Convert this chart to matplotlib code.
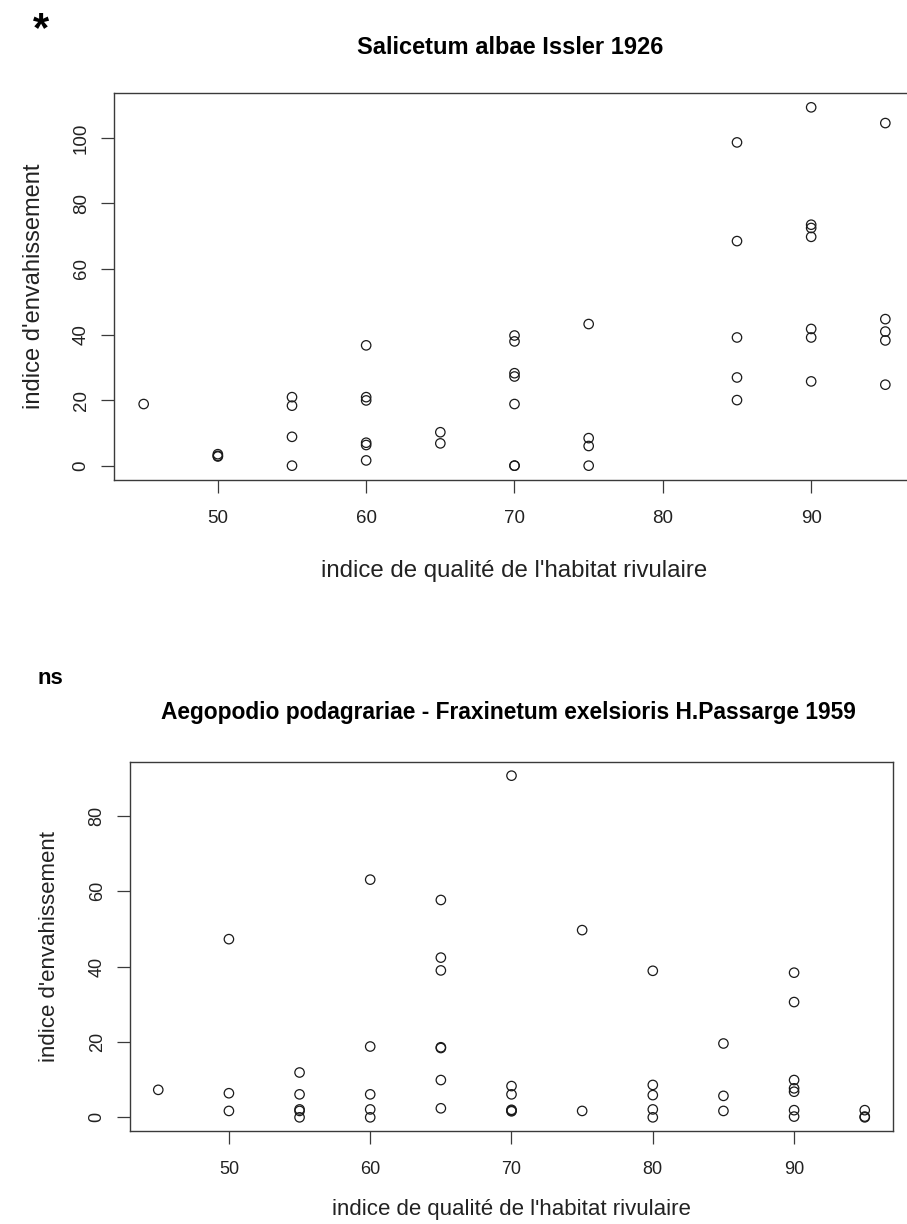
import matplotlib
matplotlib.use("Agg")
import matplotlib.pyplot as plt

plt.rcParams['font.family'] = ['Liberation Sans', 'DejaVu Sans']

# ---- data: top panel (Salicetum albae) ----
top_x = [45,
         50, 50, 50,
         55, 55, 55, 55,
         60, 60, 60, 60, 60, 60,
         65, 65,
         70, 70, 70, 70, 70, 70, 70,
         75, 75, 75, 75,
         85, 85, 85, 85, 85,
         90, 90, 90, 90, 90, 90, 90,
         95, 95, 95, 95, 95]
top_y = [18.8,
         3.5, 3.0, 2.8,
         20.9, 18.3, 8.8, 0.0,
         36.7, 20.9, 19.9, 7.0, 6.3, 1.6,
         10.2, 6.8,
         39.7, 37.9, 28.2, 27.2, 18.8, 0.0, 0.0,
         43.2, 8.4, 6.0, 0.0,
         98.6, 68.5, 39.1, 26.9, 20.0,
         109.3, 73.5, 72.5, 69.8, 41.7, 39.1, 25.7,
         104.5, 44.7, 40.9, 38.2, 24.7]

# ---- data: bottom panel (Aegopodio podagrariae - Fraxinetum) ----
bot_x = [45,
         50, 50, 50,
         55, 55, 55, 55, 55,
         60, 60, 60, 60, 60,
         65, 65, 65, 65, 65, 65, 65,
         70, 70, 70, 70, 70, 70,
         75, 75,
         80, 80, 80, 80, 80,
         85, 85, 85,
         90, 90, 90, 90, 90, 90, 90,
         95, 95, 95]
bot_y = [7.3,
         47.3, 6.4, 1.7,
         11.9, 6.1, 2.1, 1.7, 0.0,
         63.1, 18.8, 6.1, 2.1, 0.0,
         57.7, 42.4, 39.0, 18.6, 18.4, 9.9, 2.4,
         90.7, 8.3, 6.1, 2.0, 1.8, 1.6,
         49.7, 1.7,
         38.9, 8.6, 5.9, 2.1, 0.0,
         19.6, 5.7, 1.7,
         38.4, 30.6, 9.9, 7.7, 6.8, 1.9, 0.2,
         1.9, 0.2, 0.0]

x_ticks = [50, 60, 70, 80, 90]
top_yticks = [0, 20, 40, 60, 80, 100]
bot_yticks = [0, 20, 40, 60, 80]

top_title = "Salicetum albae Issler 1926"
bot_title = "Aegopodio podagrariae - Fraxinetum exelsioris H.Passarge 1959"
xlabel = "indice de qualité de l'habitat rivulaire"
ylabel = "indice d'envahissement"

W, H = 907, 1224
fig = plt.figure(figsize=(W / 100, H / 100), dpi=100)


def fx(px):
    return px / W


def fy(py):
    return 1 - py / H


def panel(rect_px, xs, ys, yticks, tick_fs):
    l, t, r, b = rect_px
    ax = fig.add_axes([fx(l), fy(b), fx(r) - fx(l), fy(t) - fy(b)])
    ax.scatter(xs, ys, s=46, facecolors='none', edgecolors='#1a1a1a',
               linewidths=0.9, clip_on=False, zorder=3)
    ax.margins(x=0.04, y=0.04)
    ax.set_xticks(x_ticks)
    ax.set_yticks(yticks)
    for sp in ax.spines.values():
        sp.set_color('#3a3a3a')
        sp.set_linewidth(1.0)
    ax.tick_params(axis='both', direction='out', length=9.5, width=0.9,
                   color='#3a3a3a', labelsize=tick_fs, labelcolor='#222222')
    ax.tick_params(axis='x', pad=12)
    ax.tick_params(axis='y', pad=8, labelrotation=90)
    for lab in ax.get_yticklabels():
        lab.set_va('center')
    return ax


ax1 = panel((114, 93, 915, 480), top_x, top_y, top_yticks, 13.5)
ax2 = panel((130, 762, 893, 1131), bot_x, bot_y, bot_yticks, 13)

# panel 1 texts
fig.text(fx(41), fy(30), "*", fontsize=30, fontweight='bold', ha='center', va='center')
fig.text(fx(510), fy(47), top_title, fontsize=17, fontweight='bold', ha='center', va='center')
fig.text(fx(514), fy(571), xlabel, fontsize=17.3, ha='center', va='center', color='#222222')
fig.text(fx(34), fy(286), ylabel, fontsize=17, ha='center', va='center', rotation=90, color='#222222')

# panel 2 texts
fig.text(fx(50), fy(678), "ns", fontsize=16, fontweight='bold', ha='center', va='center')
fig.text(fx(508), fy(712), bot_title, fontsize=16.4, fontweight='bold', ha='center', va='center')
fig.text(fx(511), fy(1210), xlabel, fontsize=16, ha='center', va='center', color='#222222')
fig.text(fx(50), fy(946), ylabel, fontsize=16, ha='center', va='center', rotation=90, color='#222222')

fig.savefig("out.png", dpi=100)
